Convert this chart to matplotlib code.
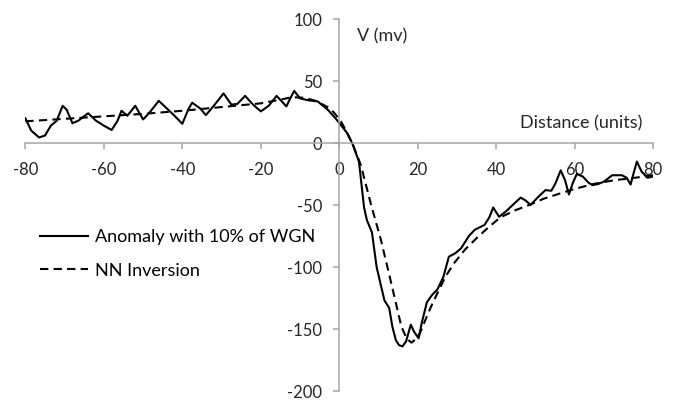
import matplotlib
matplotlib.use('Agg')
import matplotlib.pyplot as plt

plt.rcParams['font.family'] = 'Lato'
plt.rcParams['font.size'] = 13
plt.rcParams['axes.unicode_minus'] = False

# Anomaly with 10% white gaussian noise
anomaly_x = [-80, -78.5, -76.5, -75, -73.5, -72, -70.5, -69.5, -68, -66.5, -64, -62, -60,
             -58, -56.5, -55.5, -54, -52, -50, -48.5, -46, -44, -42, -40, -38.5, -37.5,
             -35.5, -34, -32, -29.5, -27.5, -26, -24, -22, -20, -18, -16, -14.5, -13.5,
             -12.5, -11.5, -10, -8, -5.5, -3, -1, 0.5, 2, 3.4, 5, 6.3, 7, 8.3, 9.5, 10.6,
             11.5, 12.7, 13.5, 14.4, 15.2, 16.1, 17, 18.2, 19, 20.2, 21, 22.3, 23.5, 25,
             26.5, 27.9, 29.5, 31, 33, 34.5, 37, 38.2, 39.2, 40.7, 42.5, 44.5, 46.2, 47.5,
             48.7, 50.5, 52.5, 54, 55, 56.4, 57.5, 58.5, 59.5, 60.5, 62, 63.5, 64.5, 66,
             67.5, 69.5, 72, 73.2, 74.2, 75, 75.8, 77, 78.5, 80]
anomaly_v = [20, 10, 4.5, 6, 14, 18, 30, 27, 16, 18, 24, 18, 14,
             10.5, 18, 26, 22, 30, 19, 24, 34, 28, 22, 15.5, 27, 32.5,
             28, 22.5, 30, 40, 31, 31.5, 38, 31, 25.5, 30, 38, 33, 29.5,
             36, 42, 36, 34.5, 33.5, 27, 20, 14, 8, -1, -15, -52, -62, -72, -100, -115,
             -127, -133, -148, -159, -163, -164, -160, -146.5, -152, -157.5, -145, -128.5, -123, -118,
             -108, -91.7, -89, -85, -75, -70, -66, -60, -52, -59.5, -55, -49, -44, -46.5,
             -50, -44, -38, -38.5, -33, -22, -30, -41.5, -32, -25, -27, -32, -34, -33,
             -31, -26, -26, -28, -33.5, -24, -15, -23, -28, -27]

# NN inversion result
nn_x = [-80, -70, -60, -50, -40, -30, -20, -15, -12, -9, -6, -3, -1.5, 0.4, 2, 3.4, 5.5,
        8.1, 10.5, 12.4, 14.4, 15.8, 17.2, 18.4, 19.9, 21, 22, 23.5, 25, 27, 29.2, 32,
        35.2, 38, 41, 45, 48.7, 52, 56.4, 60, 64.8, 70, 74.2, 80]
nn_v = [17.5, 19.5, 21.5, 23.5, 26, 29, 32, 35, 37, 36.5, 34, 29, 25, 17.6, 8, -1, -18,
        -50, -77, -102, -129, -148, -158, -161, -157, -150, -142, -131, -121, -108, -97, -86,
        -76, -68, -60, -54, -49.6, -45, -40.5, -37, -33, -30, -28.5, -26]

x_ticks = [-80, -60, -40, -20, 0, 20, 40, 60, 80]
y_ticks = [-200, -150, -100, -50, 0, 50, 100]

fig = plt.figure(figsize=(6.81, 4.01), dpi=100)
ax = fig.add_axes([0.0372, 0.0249, 0.9222, 0.9277])

ax.plot(anomaly_x, anomaly_v, color='black', linewidth=1.5, label='Anomaly with 10% of WGN')
ax.plot(nn_x, nn_v, color='black', linewidth=1.5, linestyle=(0, (4, 2.5)), label='NN Inversion')

ax.set_xlim(-80, 80)
ax.set_ylim(-200, 100)
ax.set_xticks(x_ticks)
ax.set_yticks(y_ticks)

# axes crossing at the origin
for side in ['top', 'right']:
    ax.spines[side].set_visible(False)
ax.spines['left'].set_position(('data', 0))
ax.spines['bottom'].set_position(('data', 0))
for side in ['left', 'bottom']:
    ax.spines[side].set_color('#a6a6a6')
    ax.spines[side].set_linewidth(1.1)
ax.tick_params(axis='both', colors='#a6a6a6', labelcolor='#262626', width=1.1,
               length=4.5, labelsize=12)
ax.tick_params(axis='x', pad=9)
ax.tick_params(axis='y', pad=8)

ax.text(4.4, 86, 'V (mv)', ha='left', va='center', color='#262626')
ax.text(46, 16, 'Distance (units)', ha='left', va='center', color='#262626')

ax.legend(loc='center left', bbox_to_anchor=(40 / 681, 1 - 254 / 401),
          bbox_transform=fig.transFigure, frameon=False, borderpad=0, borderaxespad=0,
          handlelength=2.66, labelspacing=0.95, handletextpad=0.4)

fig.savefig('out.png', dpi=100)
